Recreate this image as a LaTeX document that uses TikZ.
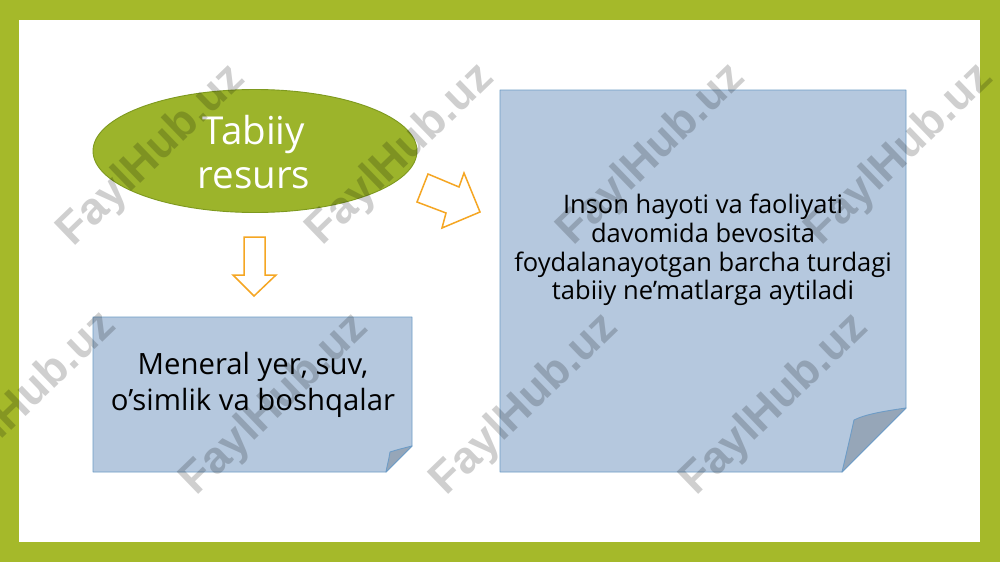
\documentclass[tikz,border=0pt]{standalone}
\usepackage{fontspec}
\setmainfont{Open Sans}
\newfontfamily\wmfont{Liberation Sans}[BoldFont={Liberation Sans Bold}]
\usetikzlibrary{shapes.geometric}
\definecolor{frame}{HTML}{A5B92A}
\definecolor{ellfill}{HTML}{9CB42B}
\definecolor{elldraw}{HTML}{7E991F}
\definecolor{boxfill}{HTML}{B5C8DE}
\definecolor{boxdraw}{HTML}{6E9CC6}
\definecolor{foldfill}{HTML}{96A6B8}
\definecolor{arroworange}{HTML}{F5A623}
\tikzset{
  notebox/.style={fill=boxfill,draw=boxdraw,line width=0.9pt,line join=round},
  foldbox/.style={fill=foldfill,draw=boxdraw,line width=0.9pt,line join=round},
  blockarrow/.style={draw=arroworange,line width=1.5pt,line join=miter,fill=white},
  wm/.style={text=black,opacity=0.19,font=\wmfont\bfseries\fontsize{45}{45}\selectfont,rotate=44,inner sep=0pt},
}
\begin{document}
\begin{tikzpicture}[x=1pt,y=-1pt]
\useasboundingbox (0,0) rectangle (1000,562);
% frame
\fill[frame] (0,0) rectangle (1000,562);
\fill[white] (19,20) rectangle (980,542);
% ellipse
\node[ellipse,fill=ellfill,draw=elldraw,line width=0.9pt,minimum width=324pt,minimum height=123pt,inner sep=0pt] (ell) at (255,151) {};
\node[text=white,align=center,font=\fontsize{38.5}{44}\selectfont] (elltext) at (254,152) {Tabiiy\\resurs};
% right note box
\draw[notebox] (500,90) -- (906,90) -- (906,408) -- (842,472) -- (500,472) -- cycle;
\draw[foldbox] (906,408) .. controls (885,411) and (866,414) .. (854,420) .. controls (850,438) and (846,455) .. (842,472) -- cycle;
\node[align=center,font=\fontsize{25.5}{28.7}\selectfont] (deftext) at (703,250) {Inson hayoti va faoliyati\\davomida bevosita\\foydalanayotgan barcha turdagi\\tabiiy ne’matlarga aytiladi};
% left note box
\draw[notebox] (93,317) -- (412,317) -- (412,446) -- (386,472) -- (93,472) -- cycle;
\draw[foldbox] (412,446) .. controls (404,448) and (396,450) .. (390,452) .. controls (389,459) and (387,466) .. (386,472) -- cycle;
\node[align=center,font=\fontsize{29.3}{35.5}\selectfont] (extext) at (253,385) {Meneral yer, suv,\\o’simlik va boshqalar};
% block arrows
\draw[blockarrow] (428,174) -- (459,187) -- (464,173) -- (480,212) -- (442,228) -- (446,213) -- (417,202) -- cycle;
\draw[blockarrow] (244,237) -- (265,237) -- (265,275) -- (276,275) -- (254,296) -- (233,275) -- (244,275) -- cycle;
% watermarks
\foreach \wx/\wy [count=\i] in {152/156,401/155,652/155,900/155,23/403,275/405,525/405,775/405}{
  \node[wm] (wm\i) at (\wx,\wy) {FaylHub.uz};
}
\end{tikzpicture}
\end{document}
